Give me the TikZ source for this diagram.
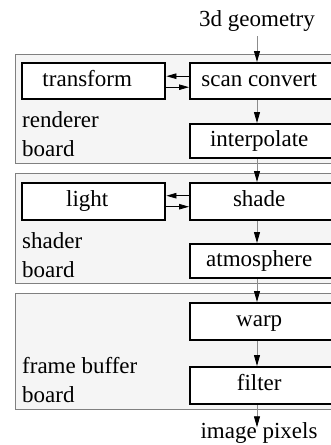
\documentclass[tikz,border=0pt]{standalone}
\usepackage{fontspec}
\setmainfont{Liberation Serif}
\usetikzlibrary{arrows.meta}
\begin{document}
\begin{tikzpicture}[x=1pt,y=-1pt,
  board/.style={draw=black!50, fill=black!4, line width=0.9pt},
  box/.style={draw=black, fill=white, line width=2.4pt, inner sep=0pt, anchor=north west},
  lbl/.style={font=\fontsize{23}{27}\selectfont, text height=15.5pt, text depth=5pt, inner sep=0pt},
  varrow/.style={draw=black!45, line width=0.8pt, -{Triangle[length=11pt,width=6pt,color=black]}},
  harrow/.style={draw=black, line width=0.8pt, -{Triangle[length=10pt,width=5.5pt]}},
  boardlbl/.style={font=\fontsize{23}{29}\selectfont, align=left, anchor=south west, inner sep=0pt}
]
\useasboundingbox (0,0) rectangle (331,445);
\clip (0,0) rectangle (331,445);

% boards
\draw[board] (15,54) rectangle (345,163);
\draw[board] (15,173) rectangle (345,283);
\draw[board] (15,293) rectangle (345,409);

% renderer board
\node[box, minimum width=143pt, minimum height=36pt, label={[lbl,xshift=-6.5pt]center:transform}] (trans) at (21,62) {};
\node[box, minimum width=156pt, minimum height=36pt, label={[lbl,xshift=-9pt]center:scan convert}] (scan) at (189,62) {};
\node[box, minimum width=156pt, minimum height=34pt, label={[lbl,xshift=-9pt]center:interpolate}] (interp) at (189,123) {};
\node[boardlbl] (rlab) at (22,157) {renderer\\board};

% shader board
\node[box, minimum width=143pt, minimum height=37pt, label={[lbl,xshift=-6.5pt]center:light}] (light) at (21,182) {};
\node[box, minimum width=156pt, minimum height=37pt, label={[lbl,xshift=-9pt]center:shade}] (shade) at (189,182) {};
\node[box, minimum width=156pt, minimum height=34pt, label={[lbl,xshift=-9pt]center:atmosphere}] (atmos) at (189,243) {};
\node[boardlbl] (slab) at (22,278) {shader\\board};

% frame buffer board
\node[box, minimum width=156pt, minimum height=37pt, label={[lbl,xshift=-9pt]center:warp}] (warp) at (189,302) {};
\node[box, minimum width=156pt, minimum height=37pt, label={[lbl,xshift=-9pt]center:filter}] (filter) at (189,366) {};
\node[boardlbl] (flab) at (22,403) {frame buffer\\board};

% input / output
\node[lbl, anchor=base] (geo) at (257,26) {3d geometry};
\node[lbl, anchor=base] (pix) at (259,438) {image pixels};

% vertical flow
\draw[varrow] ([yshift=-5pt]geo.south) -- (geo.south |- scan.north);
\draw[varrow] (scan.south -| geo.south) -- (interp.north -| geo.south);
\draw[varrow] (interp.south -| geo.south) -- (shade.north -| geo.south);
\draw[varrow] (shade.south -| geo.south) -- (atmos.north -| geo.south);
\draw[varrow] (atmos.south -| geo.south) -- (warp.north -| geo.south);
\draw[varrow] (warp.south -| geo.south) -- (filter.north -| geo.south);
\draw[varrow, shorten >=-5pt] (filter.south -| geo.south) -- (pix.north -| geo.south);

% horizontal exchanges
\draw[harrow] ([yshift=5pt]scan.west) -- ([yshift=5pt]trans.east);
\draw[harrow] ([yshift=-6pt]trans.east) -- ([yshift=-6pt]scan.west);
\draw[harrow] ([yshift=6pt]shade.west) -- ([yshift=6pt]light.east);
\draw[harrow] ([yshift=-5pt]light.east) -- ([yshift=-5pt]shade.west);
\end{tikzpicture}
\end{document}
